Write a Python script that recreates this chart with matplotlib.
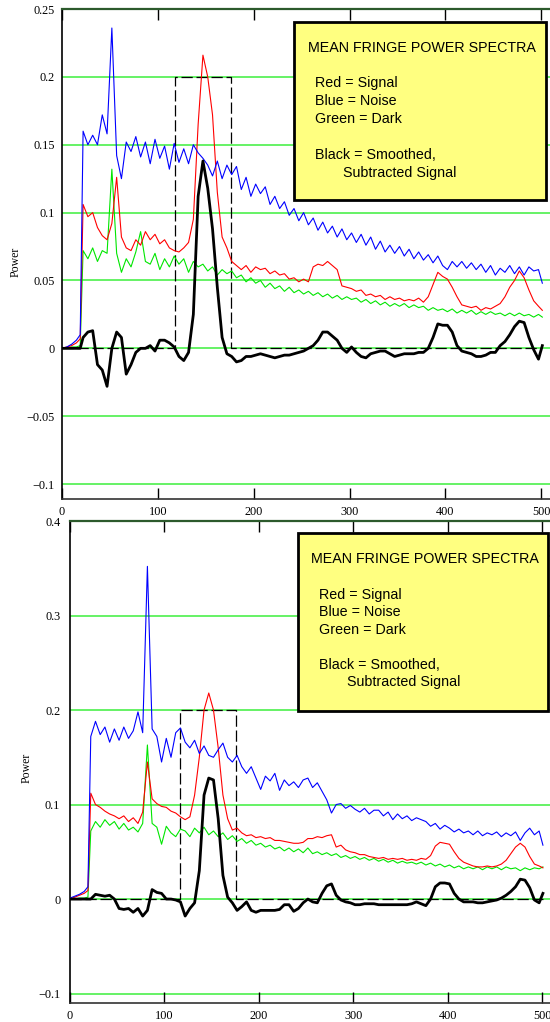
import numpy as np
import matplotlib
matplotlib.use("Agg")
import matplotlib.pyplot as plt
from matplotlib.patches import Rectangle

# x positions (same grid for every trace)
lead_x = [0, 5, 10, 15, 19]
x_vals = lead_x + list(range(22, 498, 5)) + [501]

# ---- upper panel ----
p1_blue = [0, 0.001, 0.003, 0.006, 0.010,
    0.160, 0.150, 0.157, 0.150, 0.172, 0.158, 0.236, 0.142, 0.125, 0.152,
    0.145, 0.156, 0.141, 0.152, 0.136, 0.154, 0.140, 0.149, 0.132, 0.151,
    0.137, 0.147, 0.136, 0.150, 0.144, 0.140, 0.135, 0.127, 0.138, 0.125,
    0.135, 0.128, 0.134, 0.117, 0.126, 0.112, 0.121, 0.114, 0.119, 0.106,
    0.112, 0.103, 0.108, 0.098, 0.103, 0.094, 0.100, 0.091, 0.096, 0.087,
    0.093, 0.085, 0.090, 0.082, 0.088, 0.080, 0.085, 0.078, 0.084, 0.076,
    0.082, 0.073, 0.079, 0.071, 0.076, 0.070, 0.075, 0.068, 0.073, 0.066,
    0.071, 0.065, 0.069, 0.063, 0.068, 0.061, 0.058, 0.064, 0.060, 0.064,
    0.059, 0.063, 0.058, 0.062, 0.056, 0.061, 0.054, 0.059, 0.056, 0.061,
    0.055, 0.060, 0.054, 0.060, 0.057, 0.058, 0.048]
p1_red = [0, 0.001, 0.002, 0.004, 0.007,
    0.106, 0.097, 0.100, 0.089, 0.083, 0.080, 0.092, 0.126, 0.082, 0.074,
    0.072, 0.080, 0.076, 0.086, 0.080, 0.084, 0.077, 0.080, 0.074, 0.072,
    0.071, 0.074, 0.078, 0.095, 0.165, 0.216, 0.200, 0.172, 0.115, 0.082,
    0.074, 0.064, 0.061, 0.058, 0.061, 0.056, 0.060, 0.058, 0.059, 0.055,
    0.057, 0.054, 0.055, 0.051, 0.052, 0.049, 0.051, 0.049, 0.060, 0.062,
    0.061, 0.064, 0.061, 0.058, 0.046, 0.045, 0.044, 0.042, 0.043, 0.039,
    0.040, 0.038, 0.039, 0.036, 0.038, 0.036, 0.037, 0.035, 0.036, 0.035,
    0.037, 0.034, 0.038, 0.047, 0.056, 0.053, 0.051, 0.045, 0.038, 0.032,
    0.031, 0.030, 0.031, 0.028, 0.030, 0.029, 0.031, 0.033, 0.038, 0.045,
    0.050, 0.057, 0.052, 0.043, 0.035, 0.031, 0.028]
p1_green = [0, 0.000, 0.001, 0.001, 0.002,
    0.072, 0.066, 0.074, 0.064, 0.072, 0.070, 0.132, 0.070, 0.056, 0.066,
    0.060, 0.071, 0.086, 0.064, 0.062, 0.070, 0.058, 0.066, 0.060, 0.068,
    0.062, 0.066, 0.056, 0.064, 0.060, 0.062, 0.057, 0.060, 0.054, 0.058,
    0.055, 0.057, 0.052, 0.054, 0.049, 0.052, 0.048, 0.050, 0.045, 0.048,
    0.044, 0.046, 0.042, 0.045, 0.041, 0.043, 0.040, 0.042, 0.039, 0.041,
    0.038, 0.040, 0.037, 0.039, 0.036, 0.038, 0.036, 0.037, 0.034, 0.036,
    0.033, 0.035, 0.032, 0.034, 0.031, 0.033, 0.031, 0.033, 0.030, 0.032,
    0.030, 0.031, 0.028, 0.030, 0.028, 0.029, 0.027, 0.029, 0.026, 0.028,
    0.026, 0.028, 0.025, 0.027, 0.025, 0.027, 0.025, 0.026, 0.024, 0.026,
    0.024, 0.026, 0.024, 0.025, 0.023, 0.025, 0.023]
p1_black = [0, 0, 0, 0, 0,
    0.008, 0.012, 0.013, -0.012, -0.016, -0.028, 0.000, 0.012, 0.008, -0.019,
    -0.012, -0.003, 0.000, 0.000, 0.002, -0.002, 0.006, 0.006, 0.004, 0.001,
    -0.006, -0.009, -0.003, 0.025, 0.112, 0.138, 0.118, 0.088, 0.045, 0.008,
    -0.004, -0.006, -0.010, -0.009, -0.006, -0.006, -0.005, -0.004, -0.005, -0.006,
    -0.007, -0.006, -0.005, -0.005, -0.004, -0.003, -0.002, 0.000, 0.002, 0.006,
    0.012, 0.012, 0.009, 0.006, 0.000, -0.003, 0.001, -0.003, -0.006, -0.007,
    -0.004, -0.003, -0.002, -0.002, -0.004, -0.006, -0.005, -0.004, -0.004, -0.004,
    -0.003, -0.003, 0.000, 0.008, 0.018, 0.017, 0.017, 0.012, 0.002, -0.002,
    -0.003, -0.004, -0.006, -0.006, -0.005, -0.003, -0.003, 0.002, 0.005, 0.010,
    0.016, 0.020, 0.019, 0.008, -0.001, -0.008, 0.002]
p1_window_x = [0, 118, 118, 176, 176, 501]
p1_window_y = [0, 0, 0.2, 0.2, 0, 0]

# ---- lower panel ----
p2_blue = [0.001, 0.003, 0.005, 0.008, 0.013,
    0.172, 0.188, 0.174, 0.182, 0.166, 0.180, 0.168, 0.182, 0.170, 0.178,
    0.198, 0.176, 0.352, 0.180, 0.172, 0.145, 0.170, 0.150, 0.176, 0.181,
    0.166, 0.160, 0.168, 0.154, 0.162, 0.152, 0.150, 0.158, 0.165, 0.150,
    0.145, 0.152, 0.140, 0.133, 0.140, 0.128, 0.116, 0.130, 0.125, 0.133,
    0.115, 0.126, 0.120, 0.124, 0.118, 0.126, 0.128, 0.118, 0.123, 0.114,
    0.105, 0.091, 0.100, 0.101, 0.096, 0.099, 0.095, 0.092, 0.096, 0.090,
    0.094, 0.094, 0.088, 0.092, 0.084, 0.090, 0.085, 0.088, 0.083, 0.086,
    0.084, 0.082, 0.077, 0.080, 0.074, 0.078, 0.075, 0.071, 0.074, 0.070,
    0.072, 0.068, 0.072, 0.067, 0.070, 0.068, 0.071, 0.066, 0.070, 0.067,
    0.071, 0.062, 0.070, 0.075, 0.068, 0.072, 0.057]
p2_red = [0, 0.002, 0.004, 0.006, 0.009,
    0.112, 0.100, 0.097, 0.093, 0.090, 0.088, 0.085, 0.088, 0.082, 0.086,
    0.080, 0.092, 0.145, 0.106, 0.101, 0.098, 0.097, 0.093, 0.091, 0.087,
    0.084, 0.087, 0.110, 0.150, 0.200, 0.218, 0.200, 0.160, 0.110, 0.085,
    0.073, 0.075, 0.070, 0.067, 0.068, 0.065, 0.066, 0.064, 0.065, 0.062,
    0.062, 0.061, 0.060, 0.059, 0.059, 0.060, 0.064, 0.064, 0.066, 0.065,
    0.067, 0.068, 0.055, 0.057, 0.052, 0.050, 0.049, 0.047, 0.047, 0.045,
    0.044, 0.043, 0.044, 0.042, 0.043, 0.042, 0.043, 0.041, 0.042, 0.041,
    0.043, 0.042, 0.046, 0.056, 0.060, 0.059, 0.058, 0.050, 0.043, 0.039,
    0.037, 0.035, 0.034, 0.034, 0.035, 0.034, 0.035, 0.037, 0.041, 0.048,
    0.055, 0.059, 0.055, 0.045, 0.037, 0.035, 0.033]
p2_green = [0, 0.000, 0.001, 0.001, 0.002,
    0.072, 0.082, 0.076, 0.084, 0.078, 0.082, 0.074, 0.080, 0.073, 0.076,
    0.071, 0.080, 0.163, 0.080, 0.076, 0.058, 0.077, 0.070, 0.066, 0.074,
    0.072, 0.066, 0.075, 0.070, 0.076, 0.068, 0.072, 0.066, 0.070, 0.063,
    0.067, 0.061, 0.064, 0.059, 0.062, 0.057, 0.059, 0.055, 0.057, 0.053,
    0.055, 0.051, 0.054, 0.050, 0.053, 0.049, 0.054, 0.048, 0.050, 0.047,
    0.049, 0.046, 0.048, 0.044, 0.046, 0.043, 0.045, 0.042, 0.044, 0.041,
    0.043, 0.040, 0.042, 0.039, 0.041, 0.038, 0.040, 0.038, 0.039, 0.037,
    0.039, 0.036, 0.038, 0.035, 0.037, 0.034, 0.036, 0.033, 0.035, 0.032,
    0.034, 0.032, 0.034, 0.031, 0.034, 0.032, 0.034, 0.031, 0.034, 0.032,
    0.033, 0.030, 0.033, 0.031, 0.033, 0.032, 0.034]
p2_black = [0, 0, 0, 0, 0,
    0.000, 0.005, 0.004, 0.003, 0.004, 0.000, -0.010, -0.011, -0.010, -0.014,
    -0.010, -0.018, -0.012, 0.010, 0.007, 0.006, 0.000, 0.000, -0.001, -0.003,
    -0.018, -0.010, -0.004, 0.030, 0.110, 0.128, 0.126, 0.085, 0.025, 0.002,
    -0.004, -0.012, -0.008, -0.003, -0.012, -0.014, -0.012, -0.012, -0.012, -0.012,
    -0.011, -0.006, -0.006, -0.013, -0.010, -0.004, 0.000, -0.003, -0.004, 0.006,
    0.014, 0.016, 0.004, -0.001, -0.003, -0.004, -0.006, -0.006, -0.005, -0.005,
    -0.005, -0.006, -0.006, -0.006, -0.006, -0.006, -0.006, -0.006, -0.005, -0.003,
    -0.005, -0.007, 0.000, 0.013, 0.017, 0.017, 0.016, 0.006, 0.000, -0.003,
    -0.003, -0.003, -0.004, -0.004, -0.003, -0.002, -0.001, 0.001, 0.004, 0.008,
    0.013, 0.021, 0.020, 0.012, -0.001, -0.004, 0.006]
p2_window_x = [0, 117, 117, 176, 176, 501]
p2_window_y = [0, 0, 0.2, 0.2, 0, 0]

x_ticks = [0, 100, 200, 300, 400, 500]
p1_yticks = [-0.1, -0.05, 0, 0.05, 0.1, 0.15, 0.2, 0.25]
p1_ylabels = ["\u22120.1", "\u22120.05", "0", "0.05", "0.1", "0.15", "0.2", "0.25"]
p2_yticks = [-0.1, 0, 0.1, 0.2, 0.3, 0.4]
p2_ylabels = ["\u22120.1", "0", "0.1", "0.2", "0.3", "0.4"]

legend_lines = ["Red = Signal", "Blue = Noise", "Green = Dark"]

W, H = 550, 1022
fig = plt.figure(figsize=(W / 100, H / 100), dpi=100)
fig.patch.set_facecolor("white")

serif = ["Liberation Serif", "DejaVu Serif"]
sans = ["Liberation Sans", "DejaVu Sans"]


def fx(px):
    return px / W


def fy(py):
    return 1 - py / H


def make_panel(rect, xmax, ylim, yticks, ylabels, blue, red, green, black, wx, wy, ypad):
    ax = fig.add_axes(rect)
    ax.set_xlim(0, xmax)
    ax.set_ylim(*ylim)
    for t in yticks:
        ax.axhline(t, color="#4cf04c", lw=1.2, zorder=1)
    ax.plot(wx, wy, color="black", lw=0.9, dashes=(9, 3), zorder=2)
    ax.plot(x_vals, green, color="#00e600", lw=0.8, zorder=3)
    ax.plot(x_vals, red, color="#ff0000", lw=0.8, zorder=4)
    ax.plot(x_vals, blue, color="#0000ff", lw=0.8, zorder=5)
    ax.plot(x_vals, black, color="black", lw=2.0, zorder=6)
    ax.set_xticks(x_ticks)
    ax.set_xticklabels([str(v) for v in x_ticks], fontfamily=serif, fontsize=8.8)
    ax.set_yticks(yticks)
    ax.set_yticklabels(ylabels, fontfamily=serif, fontsize=8.8)
    ax.tick_params(axis="x", direction="in", top=True, length=8, width=1.0, pad=5)
    ax.tick_params(axis="y", length=0, pad=ypad)
    ax.spines["right"].set_visible(False)
    ax.spines["top"].set_color("#2c5a2c")
    ax.spines["top"].set_linewidth(1.6)
    ax.spines["left"].set_linewidth(1.2)
    ax.spines["bottom"].set_linewidth(1.2)
    ax.spines["bottom"].set_color("#333333")
    return ax


ax1 = make_panel([fx(62), fy(499), 1 - fx(62), (499 - 9) / H], 509,
                 (-0.111, 0.25), p1_yticks, p1_ylabels,
                 p1_blue, p1_red, p1_green, p1_black, p1_window_x, p1_window_y, 5)
ax2 = make_panel([fx(70), fy(1003), 1 - fx(70), (1003 - 521) / H], 508.5,
                 (-0.110, 0.4), p2_yticks, p2_ylabels,
                 p2_blue, p2_red, p2_green, p2_black, p2_window_x, p2_window_y, 7)

fig.text(fx(16), fy(262), "Power", rotation=90, ha="center", va="center",
         fontfamily=serif, fontsize=8.5)
fig.text(fx(27), fy(768), "Power", rotation=90, ha="center", va="center",
         fontfamily=serif, fontsize=8.5)


def note_box(x0, y0, x1, y1, title_y, tx, line_ys, sx, sy):
    fig.add_artist(Rectangle((fx(x0), fy(y1)), fx(x1 - x0), (y1 - y0) / H,
                             transform=fig.transFigure, facecolor="#ffff80",
                             edgecolor="black", lw=2.0, zorder=10))
    fig.text(fx((x0 + x1) / 2 + 2), fy(title_y), "MEAN FRINGE POWER SPECTRA",
             ha="center", va="center", fontfamily=sans, fontsize=10.3, zorder=11)
    for s, yy in zip(legend_lines + ["Black = Smoothed,"], line_ys):
        fig.text(fx(tx), fy(yy), s, ha="left", va="center",
                 fontfamily=sans, fontsize=10.3, zorder=11)
    fig.text(fx(sx), fy(sy), "Subtracted Signal", ha="left", va="center",
             fontfamily=sans, fontsize=10.3, zorder=11)


note_box(294, 22, 546, 200, 48, 315, [83, 101, 119, 155], 343, 173)
note_box(298, 533, 548, 711, 559, 319, [595, 612, 630, 665], 347, 682)

fig.savefig("out.png", dpi=100)
